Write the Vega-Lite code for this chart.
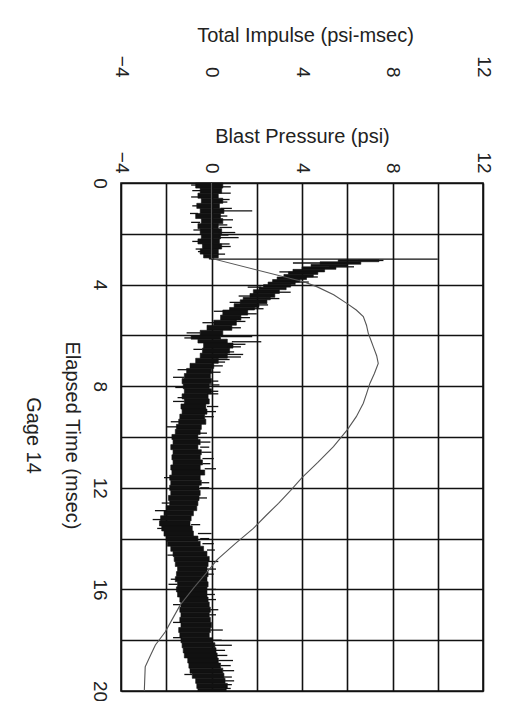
{
  "$schema": "https://vega.github.io/schema/vega-lite/v6.json",
  "width": 362,
  "height": 508,
  "autosize": {"type": "none"},
  "padding": {"left": 121, "top": 183, "right": 43, "bottom": 10},
  "background": "white",
  "config": {
    "view": {"stroke": "#111", "strokeWidth": 1.6},
    "font": "Liberation Sans",
    "axis": {"labelFont": "Liberation Sans", "titleFont": "Liberation Sans", "labelFlush": false, "labelOverlap": false, "labelBound": false}
  },
  "datasets": {
    "band": [
      {"t": 0.0, "t2": 0.2, "lo": -0.7, "hi": 0.5}, {"t": 0.2, "t2": 0.4, "lo": -0.5, "hi": 0.45}, {"t": 0.4, "t2": 0.6, "lo": -0.6, "hi": 0.3},
      {"t": 0.6, "t2": 0.8, "lo": -0.45, "hi": 0.5}, {"t": 0.8, "t2": 1.0, "lo": -0.65, "hi": 0.35}, {"t": 1.0, "t2": 1.2, "lo": -0.5, "hi": 0.55},
      {"t": 1.2, "t2": 1.4, "lo": -0.7, "hi": 0.4}, {"t": 1.4, "t2": 1.6, "lo": -0.45, "hi": 0.5}, {"t": 1.6, "t2": 1.8, "lo": -0.6, "hi": 0.3},
      {"t": 1.8, "t2": 2.0, "lo": -0.5, "hi": 0.45}, {"t": 2.0, "t2": 2.2, "lo": -0.45, "hi": 0.4}, {"t": 2.2, "t2": 2.4, "lo": -0.6, "hi": 0.35},
      {"t": 2.4, "t2": 2.6, "lo": -0.4, "hi": 0.45}, {"t": 2.6, "t2": 2.8, "lo": -0.5, "hi": 0.3}, {"t": 2.8, "t2": 2.95, "lo": -0.35, "hi": 0.3},
      {"t": 2.95, "t2": 3.0, "lo": -0.1, "hi": 0.1},
      {"t": 3.02, "t2": 3.1, "lo": 5.6, "hi": 7.4}, {"t": 3.1, "t2": 3.2, "lo": 4.8, "hi": 6.6}, {"t": 3.2, "t2": 3.3, "lo": 4.4, "hi": 6.0},
      {"t": 3.3, "t2": 3.4, "lo": 4.0, "hi": 5.5}, {"t": 3.4, "t2": 3.5, "lo": 3.6, "hi": 5.0}, {"t": 3.5, "t2": 3.6, "lo": 3.4, "hi": 4.7},
      {"t": 3.6, "t2": 3.7, "lo": 3.2, "hi": 4.5}, {"t": 3.7, "t2": 3.8, "lo": 2.9, "hi": 4.2}, {"t": 3.8, "t2": 3.9, "lo": 2.7, "hi": 3.9},
      {"t": 3.9, "t2": 4.0, "lo": 2.5, "hi": 3.7}, {"t": 4.0, "t2": 4.1, "lo": 2.3, "hi": 3.5}, {"t": 4.1, "t2": 4.2, "lo": 2.1, "hi": 3.3},
      {"t": 4.2, "t2": 4.35, "lo": 1.85, "hi": 3.0}, {"t": 4.35, "t2": 4.5, "lo": 1.7, "hi": 2.8}, {"t": 4.5, "t2": 4.6, "lo": 1.4, "hi": 2.6},
      {"t": 4.6, "t2": 4.75, "lo": 1.27, "hi": 2.45}, {"t": 4.75, "t2": 4.9, "lo": 1.0, "hi": 2.1}, {"t": 4.9, "t2": 5.0, "lo": 0.8, "hi": 1.9},
      {"t": 5.0, "t2": 5.2, "lo": 0.5, "hi": 1.6}, {"t": 5.2, "t2": 5.4, "lo": 0.4, "hi": 1.3}, {"t": 5.4, "t2": 5.6, "lo": 0.1, "hi": 1.1},
      {"t": 5.6, "t2": 5.8, "lo": -0.2, "hi": 0.9}, {"t": 5.8, "t2": 6.0, "lo": -0.5, "hi": 0.5}, {"t": 6.0, "t2": 6.15, "lo": -0.9, "hi": 0.4},
      {"t": 6.15, "t2": 6.3, "lo": -0.6, "hi": 0.7}, {"t": 6.3, "t2": 6.5, "lo": -0.35, "hi": 0.95}, {"t": 6.5, "t2": 6.7, "lo": -0.4, "hi": 0.8},
      {"t": 6.7, "t2": 6.9, "lo": -0.5, "hi": 0.7}, {"t": 6.9, "t2": 7.1, "lo": -0.7, "hi": 0.3}, {"t": 7.1, "t2": 7.3, "lo": -0.95, "hi": 0.1},
      {"t": 7.3, "t2": 7.5, "lo": -1.1, "hi": 0.0}, {"t": 7.5, "t2": 7.7, "lo": -1.2, "hi": -0.05}, {"t": 7.7, "t2": 7.9, "lo": -1.3, "hi": 0.0},
      {"t": 7.9, "t2": 8.1, "lo": -1.25, "hi": -0.1}, {"t": 8.1, "t2": 8.3, "lo": -1.2, "hi": 0.0}, {"t": 8.3, "t2": 8.5, "lo": -1.3, "hi": -0.15},
      {"t": 8.5, "t2": 8.7, "lo": -1.2, "hi": -0.1}, {"t": 8.7, "t2": 8.9, "lo": -1.35, "hi": -0.25}, {"t": 8.9, "t2": 9.1, "lo": -1.3, "hi": -0.2},
      {"t": 9.1, "t2": 9.3, "lo": -1.4, "hi": -0.3}, {"t": 9.3, "t2": 9.5, "lo": -1.45, "hi": -0.25}, {"t": 9.5, "t2": 9.7, "lo": -1.55, "hi": -0.45},
      {"t": 9.7, "t2": 9.9, "lo": -1.6, "hi": -0.5}, {"t": 9.9, "t2": 10.1, "lo": -1.75, "hi": -0.6}, {"t": 10.1, "t2": 10.3, "lo": -1.7, "hi": -0.5},
      {"t": 10.3, "t2": 10.5, "lo": -1.8, "hi": -0.6}, {"t": 10.5, "t2": 10.7, "lo": -1.7, "hi": -0.45}, {"t": 10.7, "t2": 10.9, "lo": -1.75, "hi": -0.5},
      {"t": 10.9, "t2": 11.1, "lo": -1.7, "hi": -0.4}, {"t": 11.1, "t2": 11.3, "lo": -1.8, "hi": -0.5}, {"t": 11.3, "t2": 11.5, "lo": -1.75, "hi": -0.3},
      {"t": 11.5, "t2": 11.7, "lo": -1.85, "hi": -0.5}, {"t": 11.7, "t2": 11.9, "lo": -1.8, "hi": -0.45}, {"t": 11.9, "t2": 12.1, "lo": -1.85, "hi": -0.55},
      {"t": 12.1, "t2": 12.3, "lo": -1.8, "hi": -0.5}, {"t": 12.3, "t2": 12.5, "lo": -1.9, "hi": -0.55}, {"t": 12.5, "t2": 12.7, "lo": -1.85, "hi": -0.6},
      {"t": 12.7, "t2": 12.9, "lo": -2.0, "hi": -0.65}, {"t": 12.9, "t2": 13.1, "lo": -2.1, "hi": -0.8}, {"t": 13.1, "t2": 13.3, "lo": -2.25, "hi": -0.9},
      {"t": 13.3, "t2": 13.5, "lo": -2.3, "hi": -0.95}, {"t": 13.5, "t2": 13.7, "lo": -2.2, "hi": -0.85}, {"t": 13.7, "t2": 13.9, "lo": -2.1, "hi": -0.8},
      {"t": 13.9, "t2": 14.1, "lo": -2.0, "hi": -0.6}, {"t": 14.1, "t2": 14.3, "lo": -1.95, "hi": -0.5}, {"t": 14.3, "t2": 14.5, "lo": -1.8, "hi": -0.35},
      {"t": 14.5, "t2": 14.7, "lo": -1.7, "hi": -0.2}, {"t": 14.7, "t2": 14.9, "lo": -1.65, "hi": -0.1}, {"t": 14.9, "t2": 15.1, "lo": -1.6, "hi": -0.15},
      {"t": 15.1, "t2": 15.3, "lo": -1.5, "hi": -0.2}, {"t": 15.3, "t2": 15.5, "lo": -1.55, "hi": -0.15}, {"t": 15.5, "t2": 15.7, "lo": -1.6, "hi": -0.2},
      {"t": 15.7, "t2": 15.9, "lo": -1.5, "hi": -0.15}, {"t": 15.9, "t2": 16.1, "lo": -1.55, "hi": -0.2}, {"t": 16.1, "t2": 16.3, "lo": -1.5, "hi": -0.2},
      {"t": 16.3, "t2": 16.5, "lo": -1.4, "hi": -0.15}, {"t": 16.5, "t2": 16.7, "lo": -1.35, "hi": -0.1}, {"t": 16.7, "t2": 16.9, "lo": -1.4, "hi": -0.05},
      {"t": 16.9, "t2": 17.1, "lo": -1.35, "hi": -0.1}, {"t": 17.1, "t2": 17.3, "lo": -1.4, "hi": -0.05}, {"t": 17.3, "t2": 17.5, "lo": -1.35, "hi": 0.0},
      {"t": 17.5, "t2": 17.7, "lo": -1.45, "hi": -0.05}, {"t": 17.7, "t2": 17.9, "lo": -1.4, "hi": -0.1}, {"t": 17.9, "t2": 18.1, "lo": -1.35, "hi": 0.05},
      {"t": 18.1, "t2": 18.3, "lo": -1.3, "hi": 0.15}, {"t": 18.3, "t2": 18.5, "lo": -1.25, "hi": 0.2}, {"t": 18.5, "t2": 18.7, "lo": -1.2, "hi": 0.25},
      {"t": 18.7, "t2": 18.9, "lo": -1.05, "hi": 0.3}, {"t": 18.9, "t2": 19.1, "lo": -1.0, "hi": 0.4}, {"t": 19.1, "t2": 19.3, "lo": -0.95, "hi": 0.5},
      {"t": 19.3, "t2": 19.5, "lo": -0.85, "hi": 0.55}, {"t": 19.5, "t2": 19.7, "lo": -0.7, "hi": 0.6}, {"t": 19.7, "t2": 19.9, "lo": -0.65, "hi": 0.7},
      {"t": 19.9, "t2": 20.0, "lo": -0.6, "hi": 0.65}
    ],
    "spikes": [
      {"t": 0.08, "a": -0.9, "b": -0.6}, {"t": 0.15, "a": 0.4, "b": 0.85}, {"t": 0.3, "a": -0.85, "b": -0.45}, {"t": 0.4, "a": 0.3, "b": 0.85},
      {"t": 0.55, "a": -0.9, "b": -0.5}, {"t": 0.65, "a": 0.4, "b": 0.8}, {"t": 0.75, "a": 0.3, "b": 0.7}, {"t": 0.9, "a": -0.85, "b": -0.5},
      {"t": 1.0, "a": 0.4, "b": 0.9}, {"t": 1.1, "a": 0.4, "b": 1.8}, {"t": 1.2, "a": -0.95, "b": -0.6}, {"t": 1.3, "a": 0.3, "b": 0.7},
      {"t": 1.45, "a": 0.4, "b": 0.95}, {"t": 1.55, "a": -0.9, "b": -0.5}, {"t": 1.65, "a": 0.25, "b": 0.7}, {"t": 1.75, "a": 0.35, "b": 0.9},
      {"t": 1.85, "a": -0.8, "b": -0.45}, {"t": 1.95, "a": 0.3, "b": 1.05}, {"t": 2.05, "a": 0.3, "b": 0.75}, {"t": 2.15, "a": 0.3, "b": 1.2},
      {"t": 2.3, "a": -0.85, "b": -0.4}, {"t": 2.4, "a": 0.35, "b": 0.8}, {"t": 2.5, "a": 0.3, "b": 0.85}, {"t": 2.6, "a": -0.7, "b": -0.4},
      {"t": 2.7, "a": -0.6, "b": -0.3}, {"t": 2.8, "a": 0.25, "b": 0.6},
      {"t": 3.0, "a": 0.0, "b": 10.0},
      {"t": 3.05, "a": 6.5, "b": 7.6}, {"t": 3.15, "a": 3.6, "b": 5.0}, {"t": 3.3, "a": 5.2, "b": 6.3},
      {"t": 3.5, "a": 3.0, "b": 3.6}, {"t": 3.7, "a": 4.0, "b": 4.7}, {"t": 3.9, "a": 3.5, "b": 4.3},
      {"t": 4.1, "a": 1.6, "b": 2.2}, {"t": 4.3, "a": 2.7, "b": 3.5}, {"t": 4.45, "a": 1.2, "b": 1.8}, {"t": 4.55, "a": 2.4, "b": 3.0},
      {"t": 4.7, "a": 0.8, "b": 1.3}, {"t": 4.8, "a": 2.0, "b": 2.5}, {"t": 4.95, "a": 1.8, "b": 2.3}, {"t": 5.05, "a": 0.1, "b": 0.6},
      {"t": 5.15, "a": 1.5, "b": 2.0}, {"t": 5.3, "a": 1.2, "b": 1.7}, {"t": 5.45, "a": 1.0, "b": 1.5},
      {"t": 5.5, "a": -0.4, "b": 0.2}, {"t": 5.7, "a": 0.8, "b": 1.3}, {"t": 5.9, "a": -1.1, "b": -0.5}, {"t": 6.05, "a": 0.4, "b": 1.8},
      {"t": 6.1, "a": -1.2, "b": -0.8}, {"t": 6.25, "a": 0.9, "b": 2.2}, {"t": 6.35, "a": 0.8, "b": 1.5}, {"t": 6.45, "a": 0.7, "b": 1.3},
      {"t": 6.55, "a": -0.8, "b": -0.4}, {"t": 6.65, "a": 0.6, "b": 1.0}, {"t": 6.75, "a": 0.6, "b": 1.4},
      {"t": 6.85, "a": 0.3, "b": 1.3}, {"t": 6.95, "a": 0.2, "b": 0.8}, {"t": 7.05, "a": 0.1, "b": 0.6}, {"t": 7.2, "a": 0.0, "b": 0.5},
      {"t": 7.35, "a": -1.5, "b": -1.0}, {"t": 7.45, "a": -0.1, "b": 0.4},
      {"t": 7.65, "a": -1.7, "b": -1.2}, {"t": 7.8, "a": 0.0, "b": 0.3}, {"t": 7.95, "a": -0.1, "b": 0.35}, {"t": 8.05, "a": -1.6, "b": -1.1},
      {"t": 8.2, "a": -0.1, "b": 0.3}, {"t": 8.3, "a": -0.2, "b": 0.3}, {"t": 8.45, "a": -1.5, "b": -1.1}, {"t": 8.6, "a": -1.7, "b": -1.2},
      {"t": 8.8, "a": -0.2, "b": 0.3}, {"t": 9.0, "a": -0.2, "b": 0.2},
      {"t": 9.2, "a": -0.3, "b": 0.1}, {"t": 9.4, "a": -1.8, "b": -1.4}, {"t": 9.6, "a": -2.0, "b": -1.5}, {"t": 9.85, "a": -0.6, "b": -0.2},
      {"t": 10.2, "a": -0.5, "b": -0.05}, {"t": 10.4, "a": -0.5, "b": -0.1}, {"t": 10.6, "a": -0.45, "b": 0.0}, {"t": 10.85, "a": -0.4, "b": 0.1},
      {"t": 11.05, "a": -0.4, "b": -0.05}, {"t": 11.25, "a": -0.3, "b": 0.2},
      {"t": 11.6, "a": -2.1, "b": -1.8}, {"t": 11.8, "a": -0.45, "b": -0.1}, {"t": 12.0, "a": -0.5, "b": -0.1}, {"t": 12.4, "a": -0.55, "b": -0.2},
      {"t": 12.6, "a": -2.2, "b": -1.85}, {"t": 12.9, "a": -2.5, "b": -2.0}, {"t": 13.25, "a": -2.6, "b": -2.2}, {"t": 13.45, "a": -0.9, "b": -0.5},
      {"t": 13.6, "a": -2.4, "b": -2.1}, {"t": 13.8, "a": -0.6, "b": 0.0}, {"t": 14.0, "a": -0.5, "b": -0.1}, {"t": 14.2, "a": -0.4, "b": 0.1},
      {"t": 14.45, "a": -0.2, "b": 0.15}, {"t": 14.65, "a": -1.95, "b": -1.6},
      {"t": 14.9, "a": -0.15, "b": 0.3}, {"t": 15.2, "a": -0.2, "b": 0.2}, {"t": 15.4, "a": -0.15, "b": 0.1}, {"t": 15.6, "a": -1.8, "b": -1.5},
      {"t": 15.8, "a": -1.9, "b": -1.5}, {"t": 16.0, "a": -0.2, "b": 0.2},
      {"t": 16.2, "a": -0.2, "b": 0.15}, {"t": 16.4, "a": -0.15, "b": 0.2}, {"t": 16.6, "a": -1.7, "b": -1.3}, {"t": 16.8, "a": -0.05, "b": 0.3},
      {"t": 17.0, "a": -0.1, "b": 0.2}, {"t": 17.3, "a": -1.7, "b": -1.3},
      {"t": 17.6, "a": -0.05, "b": 0.5}, {"t": 17.9, "a": -1.7, "b": -1.3}, {"t": 18.0, "a": 0.05, "b": 0.45}, {"t": 18.2, "a": 0.15, "b": 0.9},
      {"t": 18.4, "a": 0.2, "b": 0.6}, {"t": 18.6, "a": 0.2, "b": 0.7}, {"t": 18.8, "a": 0.3, "b": 0.95}, {"t": 19.0, "a": 0.4, "b": 0.85},
      {"t": 19.2, "a": 0.5, "b": 1.0}, {"t": 19.35, "a": -1.2, "b": -0.85},
      {"t": 19.45, "a": 0.55, "b": 0.9}, {"t": 19.6, "a": 0.6, "b": 1.0}, {"t": 19.75, "a": 0.6, "b": 0.9}, {"t": 19.9, "a": 0.6, "b": 0.85}
    ],
    "impulse": [
      {"t": 0.0, "imp": 0.0}, {"t": 2.97, "imp": 0.0}, {"t": 3.89, "imp": 4.07}, {"t": 4.08, "imp": 4.65},
      {"t": 4.4, "imp": 5.4}, {"t": 4.74, "imp": 5.98}, {"t": 5.0, "imp": 6.4}, {"t": 5.26, "imp": 6.71},
      {"t": 5.6, "imp": 6.85}, {"t": 5.92, "imp": 6.93}, {"t": 6.2, "imp": 7.05}, {"t": 6.44, "imp": 7.15},
      {"t": 6.8, "imp": 7.3}, {"t": 7.1, "imp": 7.37}, {"t": 7.5, "imp": 7.2}, {"t": 7.89, "imp": 7.0},
      {"t": 8.3, "imp": 6.85}, {"t": 8.67, "imp": 6.71}, {"t": 9.2, "imp": 6.4}, {"t": 9.72, "imp": 6.0},
      {"t": 10.38, "imp": 5.39}, {"t": 11.0, "imp": 4.7}, {"t": 11.6, "imp": 4.0}, {"t": 12.1, "imp": 3.5},
      {"t": 12.61, "imp": 2.96}, {"t": 13.1, "imp": 2.4}, {"t": 13.6, "imp": 1.85}, {"t": 14.2, "imp": 1.05},
      {"t": 14.84, "imp": 0.24}, {"t": 15.17, "imp": -0.06}, {"t": 15.9, "imp": -0.75}, {"t": 16.61, "imp": -1.38},
      {"t": 17.2, "imp": -1.75}, {"t": 17.67, "imp": -2.04}, {"t": 18.19, "imp": -2.48}, {"t": 18.6, "imp": -2.7},
      {"t": 19.05, "imp": -2.93}, {"t": 20.0, "imp": -2.97}
    ]
  },
  "layer": [
    {
      "data": {"name": "band"},
      "mark": {"type": "rect", "color": "#111", "stroke": "#111", "strokeWidth": 0.6},
      "encoding": {
        "y": {
          "field": "t", "type": "quantitative",
          "scale": {"domain": [0, 20], "reverse": true, "nice": false, "zero": false},
          "axis": {
            "orient": "left", "values": [0, 2, 4, 6, 8, 10, 12, 14, 16, 18, 20],
            "labelExpr": "datum.value % 4 === 0 ? datum.label : ''",
            "ticks": false, "domain": false, "grid": true, "gridColor": "#111", "gridWidth": 1.6, "gridOpacity": 1,
            "labelAngle": 90, "labelAlign": "center", "labelBaseline": "top", "labelPadding": 13,
            "labelFontSize": 19, "labelColor": "#222",
            "title": "Elapsed Time (msec)", "titleAngle": 90, "titleBaseline": "top", "titleAlign": "center",
            "titleX": -40, "titleY": 252, "titleFontSize": 20, "titleFontWeight": "normal", "titleColor": "#222"
          }
        },
        "y2": {"field": "t2"},
        "x": {
          "field": "lo", "type": "quantitative",
          "scale": {"domain": [-4, 12], "nice": false, "zero": false},
          "axis": {
            "orient": "top", "values": [-4, -2, 0, 2, 4, 6, 8, 10, 12],
            "labelExpr": "datum.value % 4 === 0 ? datum.label : ''",
            "ticks": false, "domain": false, "grid": true, "gridColor": "#111", "gridWidth": 1.6, "gridOpacity": 1,
            "labelAngle": 90, "labelAlign": "right", "labelBaseline": "middle", "labelPadding": 10,
            "labelFontSize": 19, "labelColor": "#222",
            "title": "Blast Pressure (psi)", "titleBaseline": "alphabetic", "titleAlign": "center",
            "titleX": 181, "titleY": -41, "titleFontSize": 20, "titleFontWeight": "normal", "titleColor": "#222"
          }
        },
        "x2": {"field": "hi"}
      }
    },
    {
      "data": {"name": "spikes"},
      "mark": {"type": "rule", "color": "#111", "strokeWidth": 1.3},
      "encoding": {
        "y": {"field": "t", "type": "quantitative", "scale": {"domain": [0, 20], "reverse": true, "nice": false, "zero": false}, "axis": null},
        "x": {"field": "a", "type": "quantitative", "scale": {"domain": [-4, 12], "nice": false, "zero": false}, "axis": null},
        "x2": {"field": "b"}
      }
    },
    {
      "data": {"name": "impulse"},
      "mark": {"type": "line", "color": "#555", "strokeWidth": 1.1},
      "encoding": {
        "y": {
          "field": "t", "type": "quantitative",
          "scale": {"domain": [0, 20], "reverse": true, "nice": false, "zero": false},
          "axis": {
            "orient": "left", "labels": false, "ticks": false, "domain": false, "grid": false,
            "title": "Gage 14", "titleAngle": 90, "titleBaseline": "top", "titleAlign": "center",
            "titleX": -79, "titleY": 252, "titleFontSize": 20, "titleFontWeight": "normal", "titleColor": "#222"
          }
        },
        "x": {
          "field": "imp", "type": "quantitative",
          "scale": {"domain": [-4, 12], "nice": false, "zero": false},
          "axis": {
            "orient": "top", "offset": 96, "values": [-4, 0, 4, 8, 12],
            "ticks": false, "domain": false, "grid": false,
            "labelAngle": 90, "labelAlign": "right", "labelBaseline": "middle", "labelPadding": 10,
            "labelFontSize": 19, "labelColor": "#222",
            "title": "Total Impulse (psi-msec)", "titleBaseline": "alphabetic", "titleAlign": "center",
            "titleX": 184, "titleY": -46, "titleFontSize": 20, "titleFontWeight": "normal", "titleColor": "#222"
          }
        },
        "order": {"field": "t"}
      }
    }
  ],
  "resolve": {"axis": {"x": "independent", "y": "independent"}}
}
